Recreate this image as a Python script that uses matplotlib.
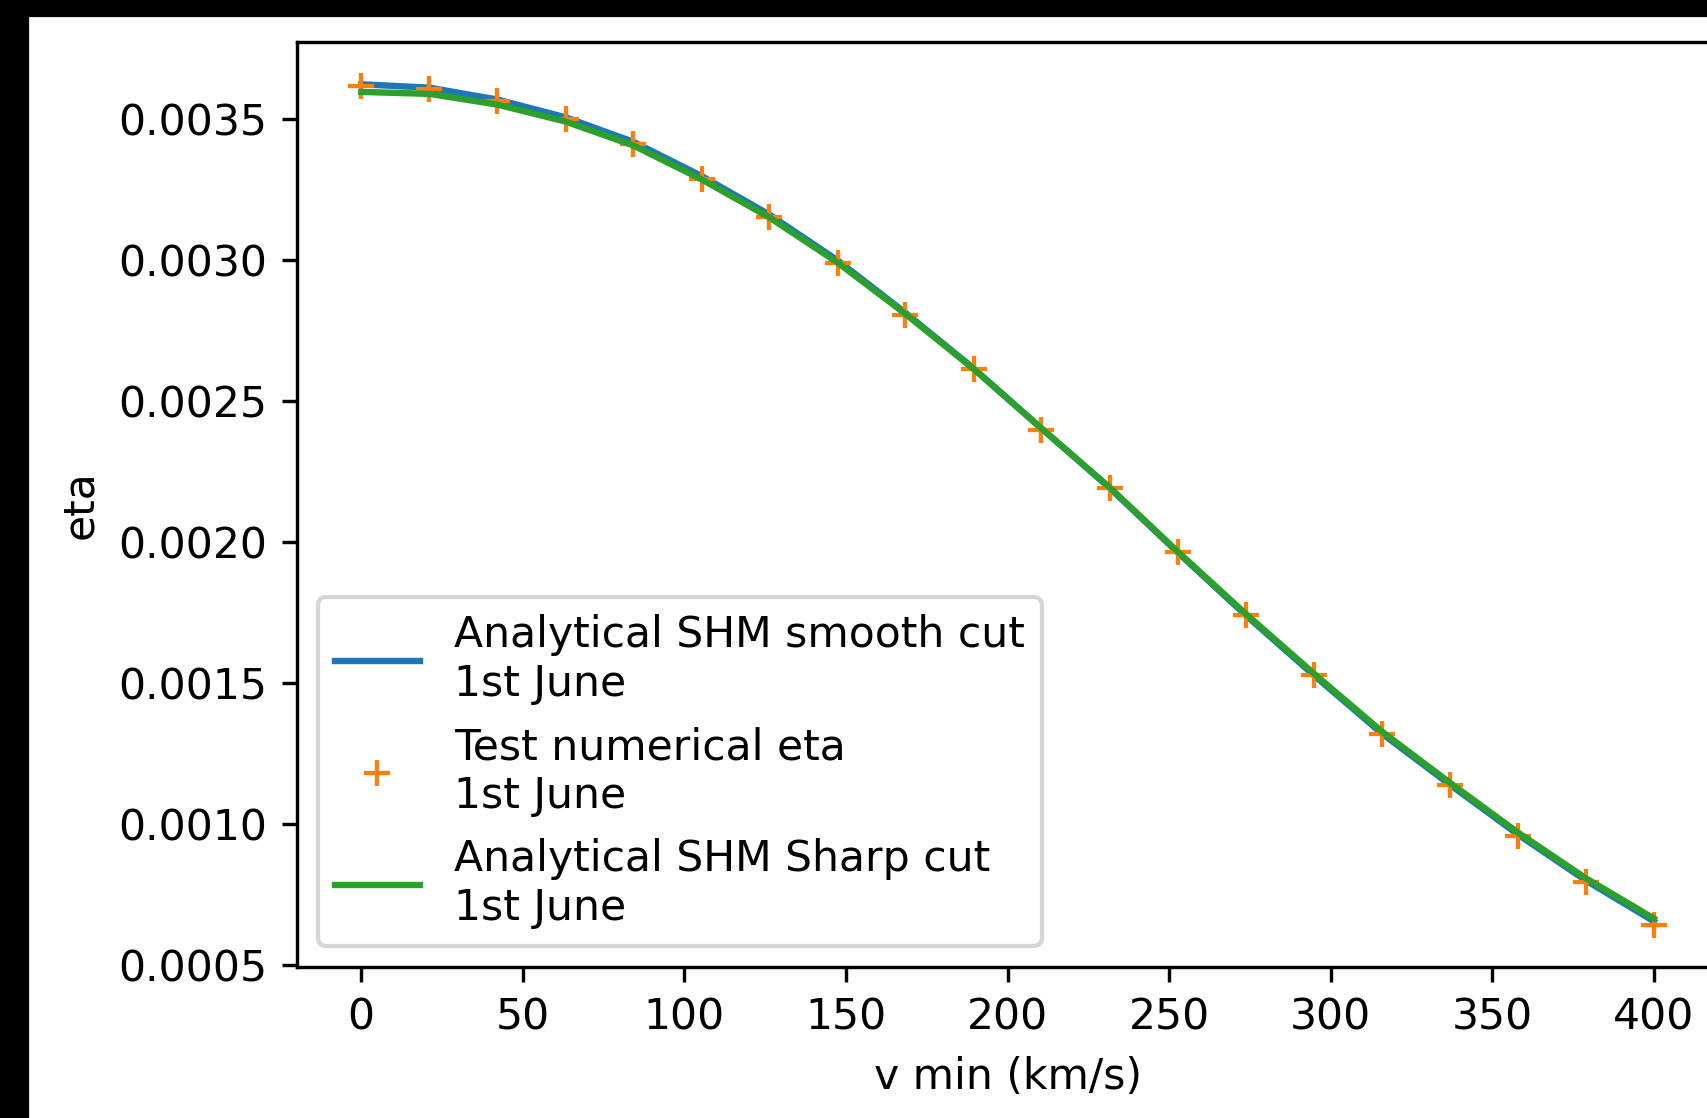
import matplotlib
matplotlib.use("Agg")
import matplotlib.pyplot as plt
from matplotlib.patches import Rectangle

# v min grid (km/s) of the numerical test points
v_min = [0, 21.1, 42.1, 63.2, 84.2, 105.3, 126.3, 147.4, 168.4, 189.5,
         210.5, 231.6, 252.6, 273.7, 294.7, 315.8, 336.8, 357.9, 378.9, 400]

eta_smooth = [0.003622, 0.003610, 0.003568, 0.003505, 0.003418, 0.003297,
              0.003160, 0.002998, 0.002812, 0.002615, 0.002402, 0.002191,
              0.001963, 0.001740, 0.001528, 0.001321, 0.001140, 0.000963,
              0.000800, 0.000655]

eta_numerical = [0.003617, 0.003605, 0.003561, 0.003499, 0.003410, 0.003287,
                 0.003151, 0.002990, 0.002805, 0.002611, 0.002398, 0.002190,
                 0.001963, 0.001739, 0.001527, 0.001319, 0.001137, 0.000959,
                 0.000794, 0.000642]

eta_sharp = [0.003595, 0.003588, 0.003550, 0.003490, 0.003405, 0.003285,
             0.003150, 0.002990, 0.002808, 0.002613, 0.002402, 0.002193,
             0.001966, 0.001745, 0.001534, 0.001328, 0.001147, 0.000970,
             0.000808, 0.000665]

dpi = 306
fig = plt.figure(figsize=(1707 / dpi, 1118 / dpi), dpi=dpi)

# dark frame around the notebook output
fig.patches.append(Rectangle((0, 0), 27 / 1707, 1, transform=fig.transFigure,
                             color="black", zorder=0))
fig.patches.append(Rectangle((0, 1 - 15 / 1118), 1, 15 / 1118,
                             transform=fig.transFigure, color="black", zorder=0))

ax = fig.add_axes([0.1738, 0.1351, 0.8329, 0.8271])
ax.plot(v_min, eta_smooth, label="Analytical SHM smooth cut\n1st June")
ax.plot(v_min, eta_numerical, "+", label="Test numerical eta\n1st June")
ax.plot(v_min, eta_sharp, label="Analytical SHM Sharp cut\n1st June")
ax.set_xlabel("v min (km/s)")
ax.set_ylabel("eta")
ax.legend(loc="lower left")

fig.savefig("out.png", dpi=dpi)
